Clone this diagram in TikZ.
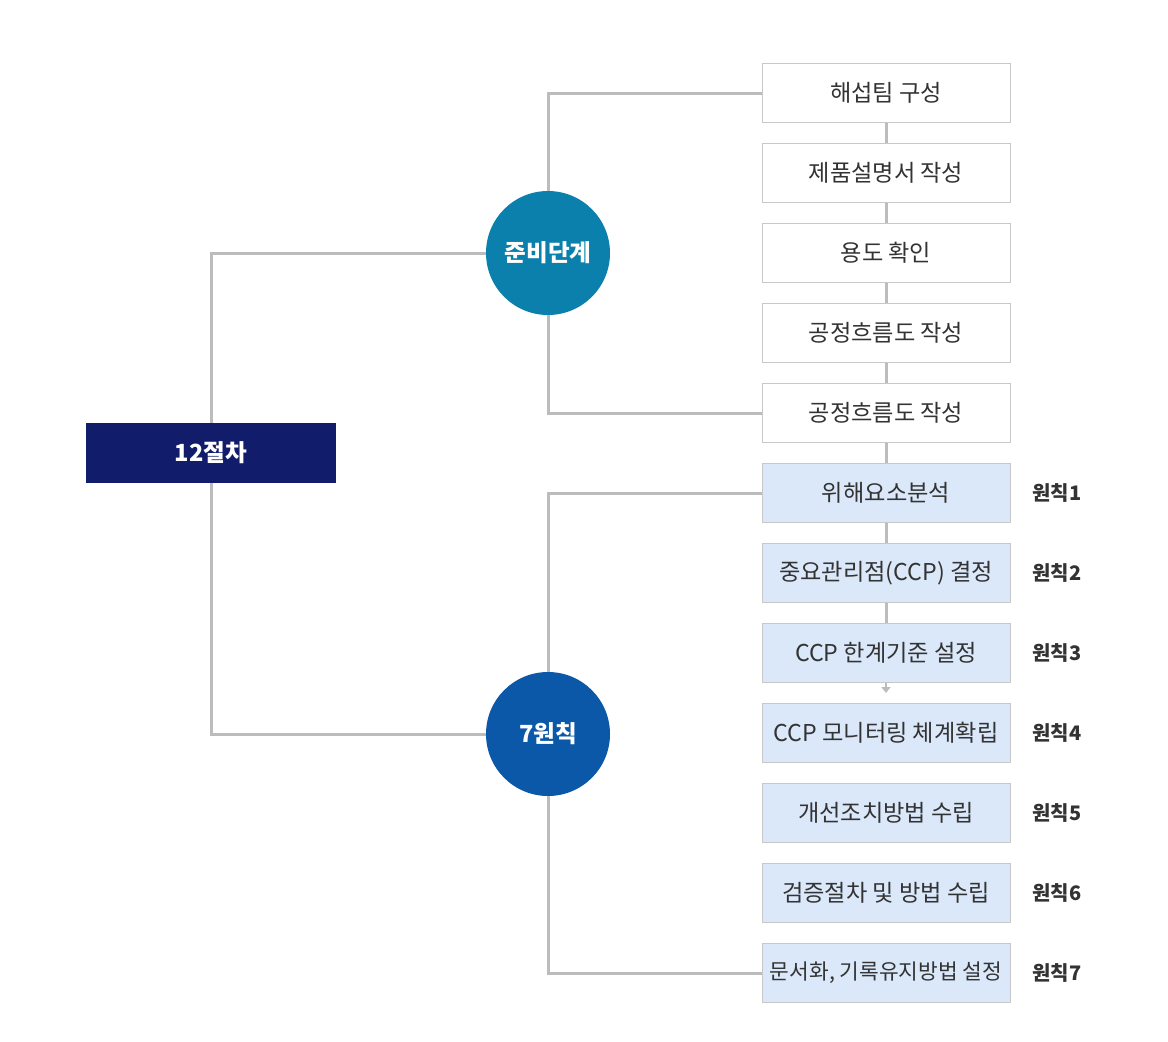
\documentclass[tikz,border=0pt]{standalone}
\usepackage{fontspec}
\setmainfont{Noto Sans CJK KR}
\usetikzlibrary{arrows.meta}
\definecolor{navy}{HTML}{111C6B}
\definecolor{teal}{HTML}{0B80AC}
\definecolor{royal}{HTML}{0B57A8}
\definecolor{paleblue}{HTML}{DAE8FA}
\definecolor{linegray}{HTML}{BCBCBC}
\definecolor{boxline}{HTML}{C8C8C8}
\definecolor{txtgray}{HTML}{333333}

\begin{document}
\begin{tikzpicture}
  [x=1pt,y=-1pt,
   every node/.style={font=\fontsize{23.2}{27}\selectfont,text=txtgray},
   stepbox/.style={draw=boxline,line width=1pt,fill=white,minimum width=248pt,minimum height=59pt,inner sep=0pt},
   rulebox/.style={stepbox,fill=paleblue},
   phase/.style={circle,minimum size=124pt,inner sep=0pt,text=white,font=\bfseries\fontsize{23.6}{27}\selectfont},
   link/.style={draw=linegray,line width=3pt}]
  \useasboundingbox (0,0) rectangle (1168,1042);

  \node[fill=navy,minimum width=250pt,minimum height=60pt,text=white,font=\bfseries\fontsize{23.6}{27}\selectfont] (top) at (211,453) {12절차};
  \node[phase,fill=teal] (prep) at (548,253) {준비단계};
  \node[phase,fill=royal] (rule) at (548,734) {7원칙};

  \node[stepbox] (s1) at (886,93)  {해섭팀 구성};
  \node[stepbox] (s2) at (886,173) {제품설명서 작성};
  \node[stepbox] (s3) at (886,253) {용도 확인};
  \node[stepbox] (s4) at (886,333) {공정흐름도 작성};
  \node[stepbox] (s5) at (886,413) {공정흐름도 작성};
  \node[rulebox] (r1) at (886,493) {위해요소분석};
  \node[rulebox] (r2) at (886,573) {중요관리점(CCP) 결정};
  \node[rulebox] (r3) at (886,653) {CCP 한계기준 설정};
  \node[rulebox] (r4) at (886,733) {CCP 모니터링 체계확립};
  \node[rulebox] (r5) at (886,813) {개선조치방법 수립};
  \node[rulebox] (r6) at (886,893) {검증절차 및 방법 수립};
  \node[rulebox,font=\fontsize{21.4}{25}\selectfont] (r7) at (886,973) {문서화, 기록유지방법 설정};

  \foreach \i in {1,...,7}
    \node[font=\bfseries\fontsize{20}{24}\selectfont] (p\i) at (1057,413+80*\i) {원칙\i};

  \foreach \from/\to in {top/prep, top/rule, prep/s1, prep/s5, rule/r1, rule/r7}
    \draw[link] (\from) |- (\to);
  \foreach \from/\to in {s1/s2, s2/s3, s3/s4, s4/s5, s5/r1, r1/r2, r2/r3}
    \draw[link] (\from) -- (\to);
  \coordinate (tip) at (886,693);
  \draw[link,-{Triangle[width=9pt,length=6pt]},line width=2pt] (r3) -- (tip);
\end{tikzpicture}
\end{document}
